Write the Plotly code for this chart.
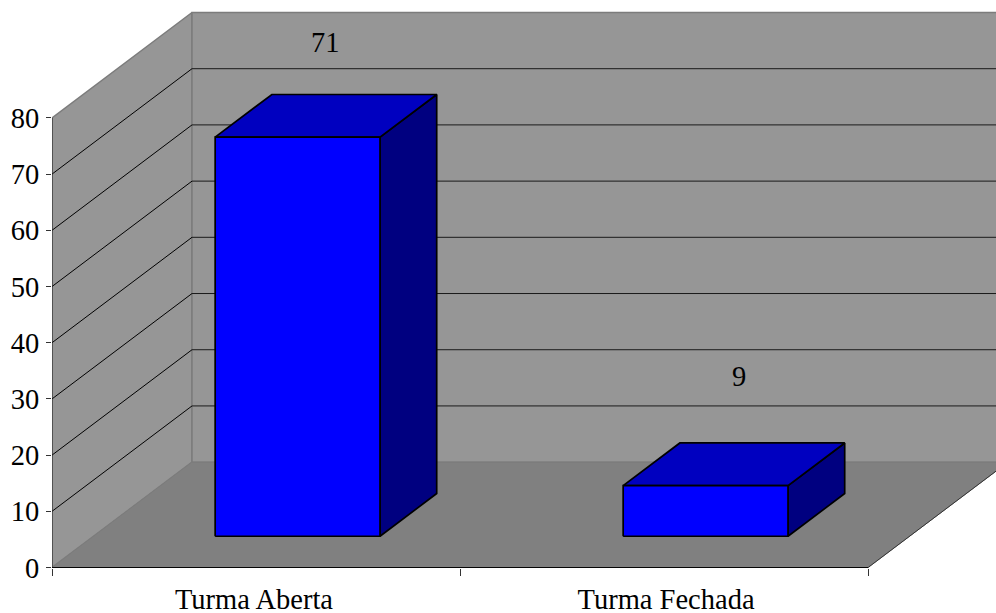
import plotly.graph_objects as go

# Chart data
categories = ["Turma Aberta", "Turma Fechada"]
values = [71, 9]
y_ticks = [0, 10, 20, 30, 40, 50, 60, 70, 80]
x_boundaries = [0, 1, 2]

# Oblique projection of the 3D box, in axis units per unit of depth
DEPTH_X = 140 / 408
DEPTH_Y = 105.5 / 5.625
BAR_WIDTH = 0.404
BAR_FRONT = 0.297
BAR_DEPTH = 0.405
Y_MAX = 80

FONT = "Liberation Serif"
FONT_SIZE = 28.5
WALL = "#969696"
FLOOR = "#808080"
EDGE = "#7c7c7c"


def proj(x, y, d=0.0):
    """Project a point (category position, value, depth) onto the page plane."""
    return x + d * DEPTH_X, y + d * DEPTH_Y


fig = go.Figure()


def face(points, fill, line_color, width=1.0):
    xs = [p[0] for p in points] + [points[0][0]]
    ys = [p[1] for p in points] + [points[0][1]]
    fig.add_trace(go.Scatter(
        x=xs, y=ys, mode="lines", fill="toself", fillcolor=fill,
        line=dict(color=line_color, width=width),
        hoverinfo="skip", showlegend=False, cliponaxis=False,
    ))


def segment(points, color, width=1.0):
    fig.add_trace(go.Scatter(
        x=[p[0] for p in points], y=[p[1] for p in points], mode="lines",
        line=dict(color=color, width=width),
        hoverinfo="skip", showlegend=False, cliponaxis=False,
    ))


# Walls and floor
face([proj(0, 0), proj(0, Y_MAX), proj(0, Y_MAX, 1), proj(0, 0, 1)], WALL, EDGE, 1.5)
face([proj(0, 0, 1), proj(0, Y_MAX, 1), proj(2, Y_MAX, 1), proj(2, 0, 1)], WALL, EDGE, 1.5)
face([proj(0, 0), proj(0, 0, 1), proj(2, 0, 1), proj(2, 0)], FLOOR, EDGE, 1.0)

# Gridlines running along the side wall and the back wall
for tick in y_ticks[1:-1]:
    segment([proj(0, tick), proj(0, tick, 1)], "#000000", 1.0)
    segment([proj(0, tick, 1), proj(2, tick, 1)], "#1a1a1a", 1.0)

# Front edge of the floor's right side and the main axis lines
segment([proj(2, 0), proj(2, 0, 1)], "#333333", 1.0)
segment([proj(0, 0), proj(0, Y_MAX)], "#222222", 1.0)
segment([proj(0, 0), proj(2, 0)], "#000000", 1.0)

# Bars: front, top and side faces
label_offsets = [(28, 52), (33, 66)]
for i, value in enumerate(values):
    left = i + 0.5 - BAR_WIDTH / 2
    right = i + 0.5 + BAR_WIDTH / 2
    d0, d1 = BAR_FRONT, BAR_FRONT + BAR_DEPTH
    face([proj(right, 0, d0), proj(right, value, d0), proj(right, value, d1), proj(right, 0, d1)],
         "#000080", "#000000", 1.7)
    face([proj(left, value, d0), proj(left, value, d1), proj(right, value, d1), proj(right, value, d0)],
         "#0000C0", "#000000", 1.7)
    face([proj(left, 0, d0), proj(left, value, d0), proj(right, value, d0), proj(right, 0, d0)],
         "#0000FF", "#000000", 1.7)

    cx, _ = proj(i + 0.5, value, d0)
    _, top = proj(i + 0.5, value, d1)
    dx, dy = label_offsets[i]
    fig.add_annotation(
        x=cx, y=top, xref="x", yref="y", text=str(value), showarrow=False,
        xshift=dx, yshift=dy, xanchor="center", yanchor="middle",
        font=dict(family=FONT, size=FONT_SIZE, color="#000000"),
    )

fig.update_layout(
    width=996, height=613,
    margin=dict(l=52, r=0, t=0, b=45, pad=0, autoexpand=False),
    paper_bgcolor="#ffffff", plot_bgcolor="#ffffff",
    font=dict(family=FONT, size=FONT_SIZE, color="#000000"),
    showlegend=False,
    xaxis=dict(
        range=[0, 944 / 408], showgrid=False, zeroline=False, showline=False,
        tickmode="array", tickvals=[0.495, 1.505], ticktext=categories,
        ticks="", ticklabelstandoff=11, fixedrange=True, automargin=False,
        minor=dict(tickmode="array", tickvals=x_boundaries, ticks="outside",
                   ticklen=7, tickcolor="#333333", tickwidth=1, showgrid=False),
    ),
    yaxis=dict(
        range=[-0.08, 568 / 5.625], showgrid=False, zeroline=False, showline=False,
        tickmode="array", tickvals=y_ticks, ticks="outside", ticklen=5,
        tickcolor="#333333", tickwidth=1, fixedrange=True, ticklabelstandoff=1,
        automargin=False,
    ),
)

fig.write_html("out.html", config=dict(displayModeBar=False))
